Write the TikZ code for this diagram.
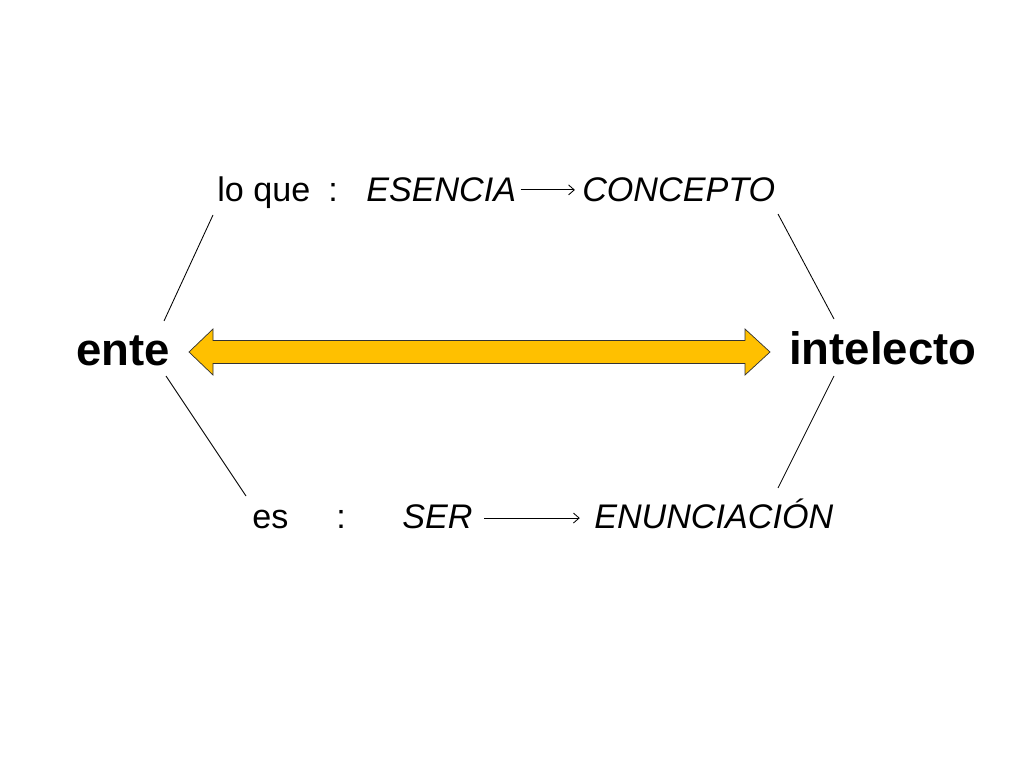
\documentclass[tikz,border=0pt]{standalone}
\usepackage{fontspec}
\setmainfont{Liberation Sans}
\usetikzlibrary{arrows.meta, calc}
\definecolor{gold}{HTML}{FFC000}

\begin{document}
\begin{tikzpicture}[x=0.703125pt, y=-0.703125pt, >={Straight Barb[length=4pt,width=7pt]},
    big/.style={font=\fontsize{32}{38}\selectfont\bfseries, inner sep=0pt, anchor=base west},
    word/.style={font=\fontsize{24}{29}\selectfont, inner sep=0pt, anchor=base west},
    term/.style={font=\fontsize{24}{29}\selectfont\itshape, inner sep=0pt, anchor=base west},
    link/.style={line width=0.6pt}]
    \useasboundingbox (0,0) rectangle (1024,768);
    \node[big] (ente) at (76,365) {ente};
    \node[big] (intel) at (789,364) {intelecto};
    \node[word] (loque) at (217,202) {lo que};
    \node[word] (c1) at (328,202) {:};
    \node[term] (esencia) at (366,202) {ESENCIA};
    \node[term] (concepto) at (582,202) {CONCEPTO};
    \node[word] (es) at (252,528) {es};
    \node[word] (c2) at (336,528) {:};
    \node[term] (ser) at (402,528) {SER};
    \node[term] (enun) at (594,528) {ENUNCIACIÓN};
    % small arrows
    \draw[->, link] ([xshift=3pt,yshift=8.5pt]esencia.base east) -- ([xshift=-5pt,yshift=8.5pt]concepto.base west);
    \draw[->, link] ([xshift=8pt,yshift=7pt]ser.base east) -- ([xshift=-10pt,yshift=7pt]enun.base west);
    % side lines
    \coordinate (a1) at (213,215); \coordinate (a2) at (164,321);
    \coordinate (b1) at (166,376); \coordinate (b2) at (246,496);
    \coordinate (c1a) at (778,214); \coordinate (c2a) at (834,319);
    \coordinate (d1) at (834,376); \coordinate (d2) at (778,488);
    \draw[link] (a1) -- (a2);
    \draw[link] (b1) -- (b2);
    \draw[link] (c1a) -- (c2a);
    \draw[link] (d1) -- (d2);
    % big double arrow
    \coordinate (lt) at (189,352);
    \coordinate (rt) at (770,352);
    \draw[fill=gold, draw=black!80, line width=0.5pt]
        (lt) -- ($(lt)+(24,-23)$) -- ($(lt)+(24,-11.5)$) -- ($(rt)+(-25,-11.5)$)
        -- ($(rt)+(-25,-23)$) -- (rt) -- ($(rt)+(-25,23)$) -- ($(rt)+(-25,11.5)$)
        -- ($(lt)+(24,11.5)$) -- ($(lt)+(24,23)$) -- cycle;
\end{tikzpicture}
\end{document}
